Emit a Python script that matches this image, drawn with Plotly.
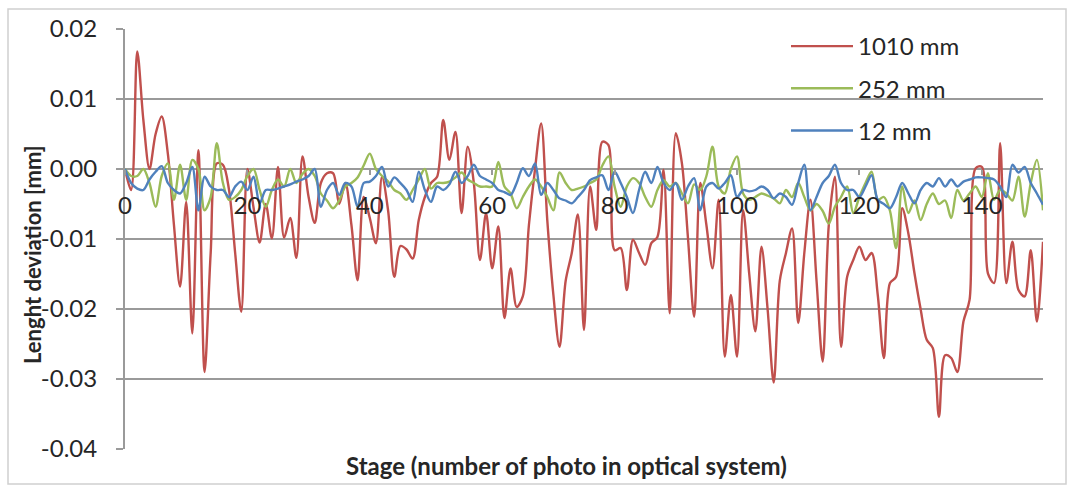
import plotly.graph_objects as go

# ---------------- data ----------------
stage = list(range(0, 151))

dev_1010 = [
    0, -0.003, 0.0168, 0.007, 0.0, 0.005, 0.0075, 0.0022, -0.008, -0.0168,
    -0.0047, -0.0235, 0.0027, -0.029, -0.012, 0.0008, 0.0006, -0.003, -0.012, -0.0204,
    0.0, -0.0055, -0.0105, -0.005, -0.0099, 0.0003, -0.0098, -0.007, -0.0127, 0.0018,
    -0.004, -0.0077, -0.002, -0.0006, -0.0006, -0.005, -0.002, -0.008, -0.0159, -0.004,
    -0.007, -0.0106, -0.0011, -0.006, -0.0154, -0.011, -0.0115, -0.0128, -0.0073, -0.004,
    -0.002, -0.0011, 0.007, 0.0013, 0.0053, -0.0063, 0.0032, -0.002, -0.013, -0.0063,
    -0.0142, -0.0082, -0.0213, -0.0142, -0.0197, -0.0182, -0.008, 0.0, 0.0065, -0.0073,
    -0.018, -0.0254, -0.016, -0.012, -0.0065, -0.023, -0.0025, -0.0087, 0.0039, 0.0034,
    -0.0116, -0.0113, -0.0173, -0.0101, -0.012, -0.0137, -0.0106, -0.0097, -0.0001, -0.0206,
    0.0051, 0.0008, -0.01, -0.0211, -0.002, -0.008, -0.0142, -0.0044, -0.0268, -0.018,
    -0.0268, -0.0059, -0.015, -0.0232, -0.0111, -0.02, -0.0305, -0.0159, -0.012, -0.0085,
    -0.022, -0.012, -0.0044, -0.016, -0.0275, -0.008, -0.0011, -0.0254, -0.0154, -0.013,
    -0.0111, -0.013, -0.012, -0.018, -0.027, -0.0163, -0.0154, -0.0056, -0.0092, -0.0149,
    -0.02, -0.0244, -0.0256, -0.0354, -0.0266, -0.027, -0.029, -0.0218, -0.0187, 0.0001,
    0.0003, -0.0149, -0.0163, 0.0037, -0.0163, -0.0104, -0.0173, -0.0182, -0.0116, -0.0218,
    -0.0104,
]

dev_252 = [
    0, -0.001, -0.001, 0.0, -0.002, -0.0054, -0.001, 0.0008, -0.0044, 0.0006,
    -0.0044, 0.0013, 0.0, -0.0059, -0.004, 0.0037, -0.002, -0.0044, -0.004, -0.003,
    -0.001, 0.0, -0.003, -0.0054, -0.003, -0.0015, -0.0025, 0.0, -0.002, -0.0007,
    0.0, -0.001, -0.0035, -0.0045, -0.0056, -0.0045, -0.0025, -0.002, -0.0012, 0.0005,
    0.0022, 0.0, -0.001, -0.0018, -0.003, -0.0035, -0.0044, -0.003, -0.0015, 0.0,
    -0.0028, -0.002, -0.002, -0.0018, -0.0012, -0.0005, -0.0015, -0.002, -0.0025, -0.0025,
    -0.0025, 0.001, -0.0025, -0.0035, -0.0056, -0.004, -0.0025, -0.0015, -0.0025, -0.004,
    -0.0059, -0.0005, -0.002, -0.003, -0.0028, -0.0025, -0.002, -0.0015, 0.0005, 0.0018,
    -0.0025, -0.0054, -0.0025, -0.0013, -0.002, -0.004, -0.0054, -0.003, -0.0016, -0.0025,
    -0.002, -0.0035, -0.0049, -0.0022, -0.003, -0.001, 0.0032, -0.0025, -0.0035, 0.0,
    0.0018, -0.0035, -0.0044, -0.004, -0.0035, -0.0038, -0.0042, -0.0049, -0.003, -0.004,
    -0.002, -0.004, -0.0059, -0.005, -0.006, -0.0078, -0.0054, -0.004, -0.0025, -0.0063,
    -0.004, -0.002, -0.0004, -0.0044, -0.004, -0.006, -0.0113, -0.0025, -0.0063, -0.0045,
    -0.0073, -0.005, -0.0035, -0.005, -0.0045, -0.007, -0.003, -0.0045, -0.0035, -0.0025,
    -0.004, -0.0006, -0.0044, -0.003, -0.0035, -0.0045, -0.0011, -0.0068, -0.002, 0.0013,
    -0.0059,
]

dev_12 = [
    0, -0.002, -0.0028, -0.003, -0.0015, -0.0004, 0.0004, -0.002, -0.003, -0.0035,
    -0.002, 0.0003, -0.0059, -0.0011, -0.0025, -0.003, -0.003, -0.004, -0.0025, -0.0018,
    -0.003, -0.0011, -0.0049, -0.003, -0.003, -0.0028, -0.0025, -0.0022, -0.0018, -0.0015,
    -0.001, 0.0, -0.0054, -0.003, -0.002, -0.0037, -0.002, -0.0025, -0.0054, -0.002,
    -0.0018, -0.001, 0.0003, -0.0025, -0.0012, -0.002, -0.003, -0.0047, -0.0004, -0.003,
    -0.0047, -0.0025, -0.003, -0.0022, -0.0004, -0.002, -0.001, 0.0006, -0.001, -0.0015,
    -0.002, -0.003, -0.0033, -0.0037, -0.002, 0.0001, -0.001, 0.0008, -0.0037, -0.002,
    -0.003, -0.0042, -0.0045, -0.0049, -0.004, -0.003, -0.0016, -0.0012, -0.0009, -0.003,
    -0.0004, -0.002, -0.004, -0.0063, -0.003, -0.0004, -0.002, 0.0003, -0.002, -0.003,
    -0.002, -0.0044, -0.0025, -0.0013, -0.0059, -0.0025, -0.002, -0.0028, -0.002, -0.0009,
    -0.004, -0.003, -0.0032, -0.003, -0.0025, -0.003, -0.0042, -0.0035, -0.004, -0.0051,
    -0.002, 0.0006, -0.0059, -0.004, -0.002, -0.001, 0.0006, -0.002, -0.003, -0.003,
    -0.004, -0.0025, -0.0009, -0.0044, -0.005, -0.0056, -0.004, -0.002, -0.0035, -0.0049,
    -0.003, -0.002, -0.0025, -0.0013, -0.0025, -0.0015, -0.0025, -0.0018, -0.0015, -0.0012,
    -0.0012, -0.0013, -0.0015, -0.0025, -0.004, 0.0006, -0.0005, 0.0003, -0.002, -0.0035,
    -0.0051,
]

series_names = ["1010 mm", "252 mm", "12 mm"]
series_colors = ["#c0504d", "#9bbb59", "#4f81bd"]

y_tick_vals = [0.02, 0.01, 0.0, -0.01, -0.02, -0.03, -0.04]
y_tick_text = ["0.02", "0.01", "0.00", "-0.01", "-0.02", "-0.03", "-0.04"]
x_tick_vals = [0, 20, 40, 60, 80, 100, 120, 140]

x_title = "Stage (number of photo in optical system)"
y_title = "Lenght deviation [mm]"

# ---------------- figure ----------------
FONT = "Lato, 'Open Sans', sans-serif"
GRID = "#9a9a9a"
TXT = "#262626"

fig = go.Figure()
for name, vals, col in zip(series_names, [dev_1010, dev_252, dev_12], series_colors):
    fig.add_trace(go.Scatter(
        x=stage, y=vals, mode="lines", name=name, legendgroup=name,
        line=dict(color=col, width=2.4, shape="spline", smoothing=0.9),
    ))

W, H = 1072, 486
L, R, T, B = 125, 29, 29, 37
pw, ph = W - L - R, H - T - B

def px2paper_x(px):
    return (px - L) / pw

def py2paper_y(py):
    return (H - B - py) / ph

fig.update_layout(
    width=W, height=H,
    margin=dict(l=L, r=R, t=T, b=B, pad=0),
    paper_bgcolor="white", plot_bgcolor="white",
    font=dict(family=FONT, size=23, color=TXT),
    showlegend=True,
    legend=dict(
        x=px2paper_x(786), y=py2paper_y(24), xanchor="left", yanchor="top",
        bgcolor="rgba(0,0,0,0)", borderwidth=0,
        font=dict(family=FONT, size=24, color=TXT),
        tracegroupgap=8, traceorder="grouped", itemwidth=62,
    ),
    xaxis=dict(
        range=[0, 150], tickvals=x_tick_vals, showgrid=False, zeroline=False,
        anchor="free", position=4 / 6, showline=False,
        ticks="outside", ticklen=5, tickwidth=1.5, tickcolor=GRID,
        ticklabelstandoff=10,
        tickfont=dict(family=FONT, size=24, color=TXT),
    ),
    yaxis=dict(
        range=[-0.04, 0.02], tickvals=y_tick_vals, ticktext=y_tick_text,
        showgrid=True, gridcolor=GRID, gridwidth=2, zeroline=False,
        showline=True, linecolor=GRID, linewidth=2,
        ticks="outside", ticklen=7, tickwidth=2, tickcolor=GRID,
        ticklabelstandoff=14,
        tickfont=dict(family=FONT, size=24, color=TXT),
    ),
    shapes=[dict(
        type="rect", xref="paper", yref="paper",
        x0=px2paper_x(8), x1=px2paper_x(1066), y0=py2paper_y(484), y1=py2paper_y(9),
        line=dict(color="#d0d0d0", width=1.5), fillcolor="rgba(0,0,0,0)", layer="below",
    )],
    annotations=[
        dict(text="<b>" + x_title + "</b>", xref="paper", yref="paper",
             x=px2paper_x(566), y=py2paper_y(465), xanchor="center", yanchor="middle",
             showarrow=False, font=dict(family=FONT, size=24, color=TXT)),
        dict(text="<b>" + y_title + "</b>", xref="paper", yref="paper",
             x=px2paper_x(32), y=py2paper_y(255), xanchor="center", yanchor="middle",
             textangle=-90, showarrow=False,
             font=dict(family=FONT, size=22, color=TXT)),
    ],
)

fig.write_html("out.html", config={"displayModeBar": False},
               post_script="document.body.style.margin='0';document.body.style.padding='0';")
